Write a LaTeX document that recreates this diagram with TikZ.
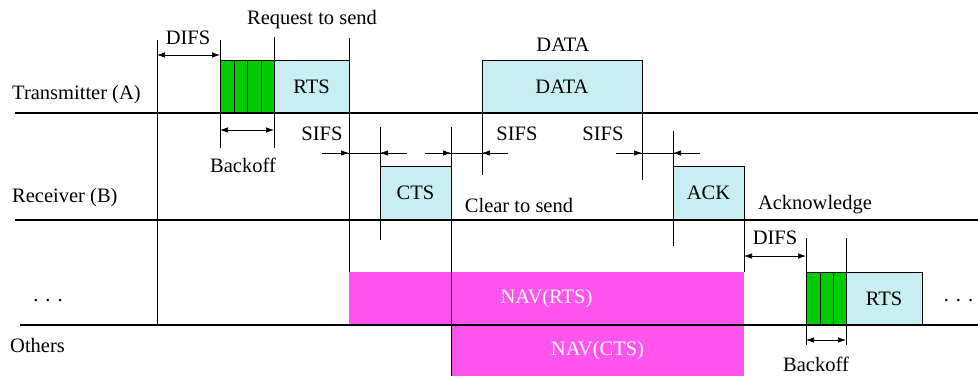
\documentclass[tikz,border=0pt]{standalone}
\usepackage{fontspec}
\setmainfont{Liberation Serif}
\usepackage{tikz}
\definecolor{pkt-blue}{HTML}{C8EEF2}
\definecolor{nav-pink}{HTML}{FF55EE}
\definecolor{bo-green}{HTML}{00CC00}
\usetikzlibrary{positioning,arrows.meta}
\newcommand{\gapdots}{.\hspace{7pt}.\hspace{7pt}.}

\begin{document}
\begin{tikzpicture}[x=1pt,y=-1pt,>={Latex[length=8pt,width=5.5pt]},
  font=\fontsize{20.5}{24}\selectfont,
  pkt/.style={draw,fill=pkt-blue,inner sep=0pt,minimum height=53pt},
  bo/.style={draw,fill=bo-green,inner sep=0pt,minimum height=53pt},
  nav/.style={fill=nav-pink,text=white,inner sep=0pt},
  axis/.style={line width=1.6pt},
  tick/.style={line width=0.7pt},
  dim/.style={line width=0.7pt}]
\useasboundingbox (0,0) rectangle (978,376);
% virtual carrier sense
\path
(546.5,298.5) node[nav,minimum width=395pt,minimum height=53pt] (navr) {NAV(RTS)}
(597.5,350.5) node[nav,minimum width=293pt,minimum height=51pt] (navc) {NAV(CTS)};
% frames
\path
(247,86.5)   node[bo,minimum width=54pt]  (bo1) {}
(311.5,86.5) node[pkt,minimum width=75pt] (rts1) {RTS}
(562,86.5)   node[pkt,minimum width=160pt] (data) {DATA}
(415.5,193)  node[pkt,minimum width=71pt,minimum height=54pt] (cts) {CTS}
(708.5,193)  node[pkt,minimum width=71pt,minimum height=54pt] (ack) {ACK}
(826,298.5)  node[bo,minimum width=40pt]  (bo2) {}
(884,298.5)  node[pkt,minimum width=76pt] (rts2) {RTS};
\foreach \x in {234,247,261} \draw[tick] (\x,60) -- (\x,113);
\foreach \x in {820,833} \draw[tick] (\x,272) -- (\x,325);
% time lines
\draw[axis] (15,113) -- (978,113);
\draw[axis] (15,220) -- (978,220);
\draw[line width=2.6pt] (20,325) -- (978,325);
% slot markers
\draw[tick] (157,40) -- (157,325);
\draw[tick] (220,40) -- (220,148);
\draw[tick] (274,37) -- (274,148);
\draw[tick] (349,38) -- (349,272);
\draw[tick] (380,127) -- (380,240);
\draw[tick] (451,127) -- (451,376);
\draw[tick] (482,113) -- (482,175);
\draw[tick] (642,113) -- (642,180);
\draw[tick] (673,131) -- (673,246);
\draw[tick] (744,220) -- (744,272);
\draw[tick] (806,238) -- (806,345);
\draw[tick] (846,238) -- (846,345);
% intervals
\draw[dim,<->] (157,55) -- (220,55);
\draw[dim,<->] (220,130) -- (274,130);
\draw[dim] (322,153) -- (407,153);
\draw[dim,->] (322,153) -- (349,153);
\draw[dim,->] (407,153) -- (380,153);
\draw[dim] (425,153) -- (508,153);
\draw[dim,->] (425,153) -- (451,153);
\draw[dim,->] (508,153) -- (482,153);
\draw[dim] (616,153) -- (700,153);
\draw[dim,->] (616,153) -- (642,153);
\draw[dim,->] (700,153) -- (673,153);
\draw[dim,<->] (744,256) -- (806,256);
\draw[dim,<->] (806,340) -- (846,340);
% labels
\path
(312,20)  node (lreq) {Request to send}
(188,38)  node (ldifs1) {DIFS}
(12,95)   node[anchor=west,inner sep=0pt] (ltx) {Transmitter (A)}
(243,165) node (lbo1) {Backoff}
(322,134) node (ls1) {SIFS}
(517,134) node (ls2) {SIFS}
(603,134) node (ls3) {SIFS}
(563,45)  node (ldata) {DATA}
(12,198)  node[anchor=west,inner sep=0pt] (lrx) {Receiver (B)}
(519,205) node (lcts) {Clear to send}
(815,205) node (lack) {Acknowledge}
(775,238) node (ldifs2) {DIFS}
(816,364) node (lbo2) {Backoff}
(48,301)  node[anchor=base,inner sep=0pt] (ldots1) {\gapdots}
(958.5,301) node[anchor=base,inner sep=0pt] (ldots2) {\gapdots}
(10,345)  node[anchor=west,inner sep=0pt] (loth) {Others};
\end{tikzpicture}
\end{document}
